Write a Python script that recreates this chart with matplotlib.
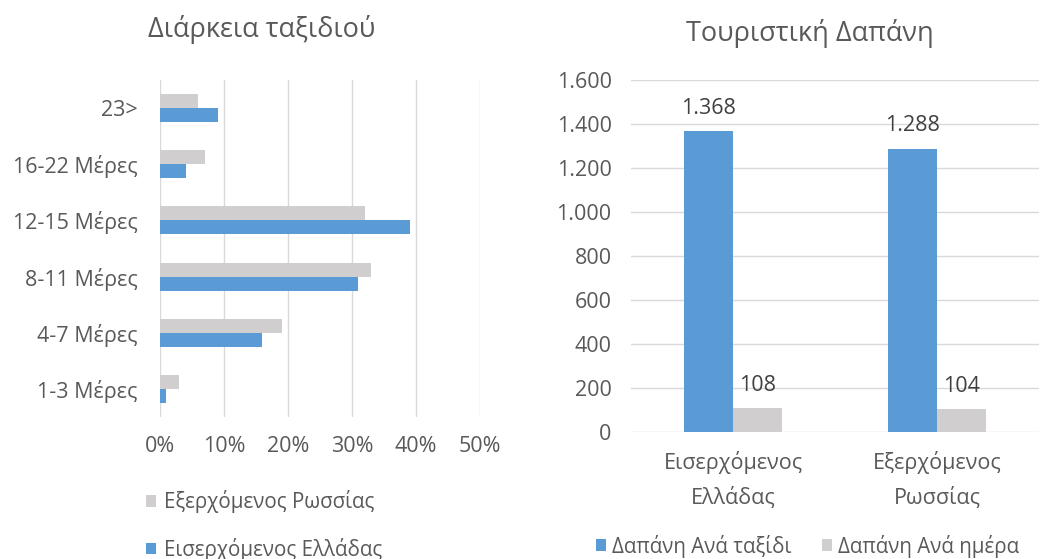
import numpy as np
import matplotlib
matplotlib.use("Agg")
import matplotlib.pyplot as plt
from matplotlib.ticker import FuncFormatter, MultipleLocator

plt.rcParams['font.family'] = ['Open Sans', 'DejaVu Sans']

# --- data: trip duration (share of travellers) ---
duration_cats = ["1-3 Μέρες", "4-7 Μέρες", "8-11 Μέρες", "12-15 Μέρες", "16-22 Μέρες", "23>"]
russia_out = [0.03, 0.19, 0.33, 0.32, 0.07, 0.06]
greece_in = [0.01, 0.16, 0.31, 0.39, 0.04, 0.09]

# --- data: tourist spending ---
spend_cats = ["Εισερχόμενος\nΕλλάδας", "Εξερχόμενος\nΡωσσίας"]
per_trip = [1368, 1288]
per_day = [108, 104]

BLUE = "#5b9bd5"
GREY = "#d0cece"
TXT = "#595959"
GRID = "#d9d9d9"

TICK_FS = 15.5
LEG_FS = 14.8
TITLE_FS = 19.5
fig = plt.figure(figsize=(10.42, 5.59), dpi=100)


def dotfmt(v):
    return f"{v:,.0f}".replace(",", ".")


# ===== left: Διάρκεια ταξιδιού =====
ax1 = fig.add_axes([0.1536, 0.254, 0.3071, 0.603])
y = np.arange(len(duration_cats))
h = 0.25
ax1.barh(y + h / 2, russia_out, height=h, color=GREY, label="Εξερχόμενος Ρωσσίας", zorder=3)
ax1.barh(y - h / 2, greece_in, height=h, color=BLUE, label="Εισερχόμενος Ελλάδας", zorder=3)
ax1.set_xlim(0, 0.5)
ax1.set_ylim(-0.5, len(duration_cats) - 0.5)
ax1.xaxis.set_major_locator(MultipleLocator(0.1))
ax1.xaxis.set_major_formatter(FuncFormatter(lambda v, p: f"{v * 100:.0f}%"))
ax1.set_yticks(y)
ax1.set_yticklabels(duration_cats)
ax1.grid(axis="x", color=GRID, linewidth=1, zorder=0)
for s in ax1.spines.values():
    s.set_visible(False)
ax1.tick_params(axis="x", length=0, pad=14, labelsize=TICK_FS, colors=TXT)
ax1.tick_params(axis="y", length=0, pad=16, labelsize=TICK_FS, colors=TXT)
fig.text(0.2515, 0.948, "Διάρκεια ταξιδιού", ha="center", va="center", fontsize=TITLE_FS, color=TXT)

hl, ll = ax1.get_legend_handles_labels()
fig.legend(hl, ll, loc="center left", bbox_to_anchor=(0.14, 0.06), ncol=1,
           frameon=False, fontsize=LEG_FS, labelcolor=TXT, handlelength=0.5,
           handleheight=0.5, handletextpad=0.4, labelspacing=1.2,
           borderaxespad=0, borderpad=0)

# ===== right: Τουριστική Δαπάνη =====
ax2 = fig.add_axes([0.6056, 0.2272, 0.392, 0.6297])
x = np.arange(len(spend_cats))
w = 0.24
b1 = ax2.bar(x - w / 2, per_trip, width=w, color=BLUE, label="Δαπάνη Ανά ταξίδι", zorder=3)
b2 = ax2.bar(x + w / 2, per_day, width=w, color=GREY, label="Δαπάνη Ανά ημέρα", zorder=3)
ax2.set_xlim(-0.5, len(spend_cats) - 0.5)
ax2.set_ylim(0, 1600)
ax2.yaxis.set_major_locator(MultipleLocator(200))
ax2.yaxis.set_major_formatter(FuncFormatter(lambda v, p: dotfmt(v)))
ax2.set_xticks(x)
ax2.set_xticklabels(spend_cats, linespacing=1.75)
ax2.grid(axis="y", color=GRID, linewidth=1, zorder=0)
for s in ax2.spines.values():
    s.set_visible(False)
ax2.tick_params(axis="y", length=0, pad=14, labelsize=TICK_FS, colors=TXT)
ax2.tick_params(axis="x", length=0, pad=14, labelsize=TICK_FS, colors=TXT)
for bars in (b1, b2):
    for r in bars:
        ax2.annotate(dotfmt(r.get_height()), (r.get_x() + r.get_width() / 2, r.get_height()),
                     xytext=(0, 9), textcoords="offset points", ha="center", va="bottom",
                     fontsize=TICK_FS, color="#404040")
fig.text(0.7775, 0.94, "Τουριστική Δαπάνη", ha="center", va="center", fontsize=TITLE_FS, color=TXT)

hr, lr = ax2.get_legend_handles_labels()
fig.legend(hr, lr, loc="center left", bbox_to_anchor=(0.572, 0.023), ncol=2,
           frameon=False, fontsize=LEG_FS, labelcolor=TXT, handlelength=0.5,
           handleheight=0.5, handletextpad=0.3, columnspacing=1.45,
           borderaxespad=0, borderpad=0)

fig.savefig("out.png", dpi=100)
